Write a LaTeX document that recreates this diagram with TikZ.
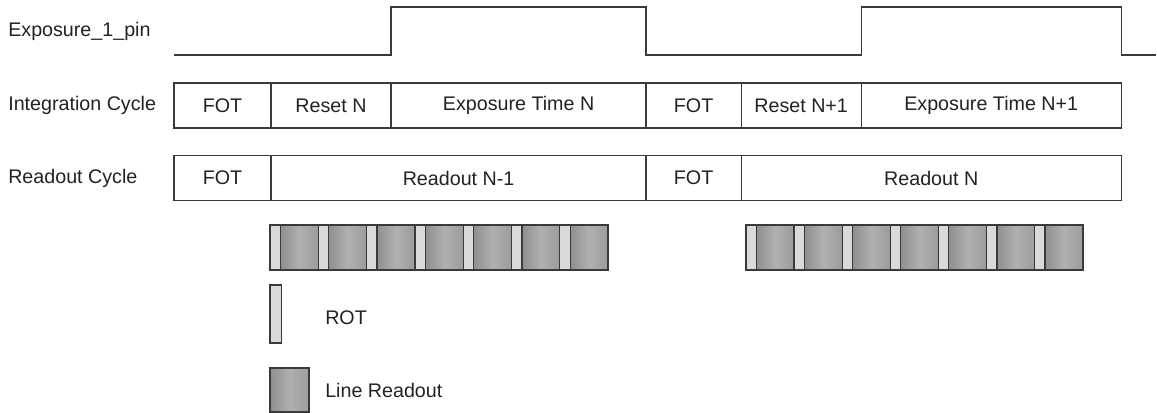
\documentclass[tikz,border=0pt]{standalone}
\usepackage{fontspec}
\setmainfont{Liberation Sans}
\usetikzlibrary{positioning}
\definecolor{LineGray}{HTML}{3A3A3A}
\definecolor{TextGray}{HTML}{222222}
\definecolor{RotGray}{HTML}{DADADA}

\begin{document}
\begin{tikzpicture}[x=0.025cm, y=-0.025cm,
    every node/.style={font=\fontsize{14}{16}\selectfont, text=TextGray},
    cell/.style={rectangle, draw=LineGray, line width=0.9pt, outer sep=0pt,
      inner sep=0pt, minimum height=1.13cm, minimum width=#1},
    rotcell/.style={rectangle, draw=LineGray, line width=0.9pt, outer sep=0pt,
      inner sep=0pt, fill=RotGray, minimum width=0.26cm, minimum height=1.125cm},
    lrcell/.style={rectangle, draw=LineGray, line width=0.9pt, outer sep=0pt,
      inner sep=0pt, left color=gray!88, right color=gray!78, middle color=gray!62,
      minimum width=0.9475cm, minimum height=1.125cm},
    rowlabel/.style={anchor=west, inner sep=0pt}]
    \useasboundingbox (0,0) rectangle (1157,413);

    % row labels
    \node[rowlabel] (lpin) at (8,31) {Exposure\_1\_pin};
    \node[rowlabel] (lint) at (8,105) {Integration Cycle};
    \node[rowlabel] (lrd) at (8,178) {Readout Cycle};

    % integration cycle
    \node[cell=2.425cm, anchor=west] (i1) at (174,105.5) {FOT};
    \node[cell=3cm, right=0pt of i1] (i2) {Reset N};
    \node[cell=6.375cm, right=0pt of i2] (i3) {Exposure Time N};
    \node[cell=2.375cm, right=0pt of i3] (i4) {FOT};
    \node[cell=3cm, right=0pt of i4] (i5) {Reset N+1};
    \node[cell=6.5cm, right=0pt of i5] (i6) {Exposure Time N+1};

    % readout cycle
    \node[cell=2.425cm, anchor=west] (r1) at (174,178) {FOT};
    \node[cell=9.375cm, right=0pt of r1] (r2) {Readout N-1};
    \node[cell=2.375cm, right=0pt of r2] (r3) {FOT};
    \node[cell=9.5cm, right=0pt of r3] (r4) {Readout N};

    % exposure pin waveform
    \coordinate (lo) at (0,55);
    \coordinate (hi) at (0,7);
    \coordinate (pinend) at (1156,55);
    \draw[LineGray, line width=0.9pt] (i1.west |- lo) -- (i3.west |- lo) -- (i3.west |- hi)
      -- (i4.west |- hi) -- (i4.west |- lo) -- (i6.west |- lo) -- (i6.west |- hi)
      -- (i6.east |- hi) -- (i6.east |- lo) -- (pinend);

    % line readouts
    \foreach \i in {0,...,6} {
      \node[rotcell, anchor=north west] (ra\i) at ({270+48.3*\i},225) {};
      \node[lrcell, right=0pt of ra\i] (la\i) {};
      \node[rotcell, anchor=north west] (rb\i) at ({746+48.1*\i},225) {};
      \node[lrcell, right=0pt of rb\i] (lb\i) {};
    }

    % legend
    \node[rotcell, minimum width=0.28cm, minimum height=1.45cm, anchor=north west] (legrot) at (270,285) {};
    \node[rowlabel] (txtrot) at (325,318) {ROT};
    \node[lrcell, minimum width=0.975cm, minimum height=1.1cm, anchor=north west] (leglr) at (270,368) {};
    \node[rowlabel] (txtlr) at (325,390) {Line Readout};
  \end{tikzpicture}
\end{document}
